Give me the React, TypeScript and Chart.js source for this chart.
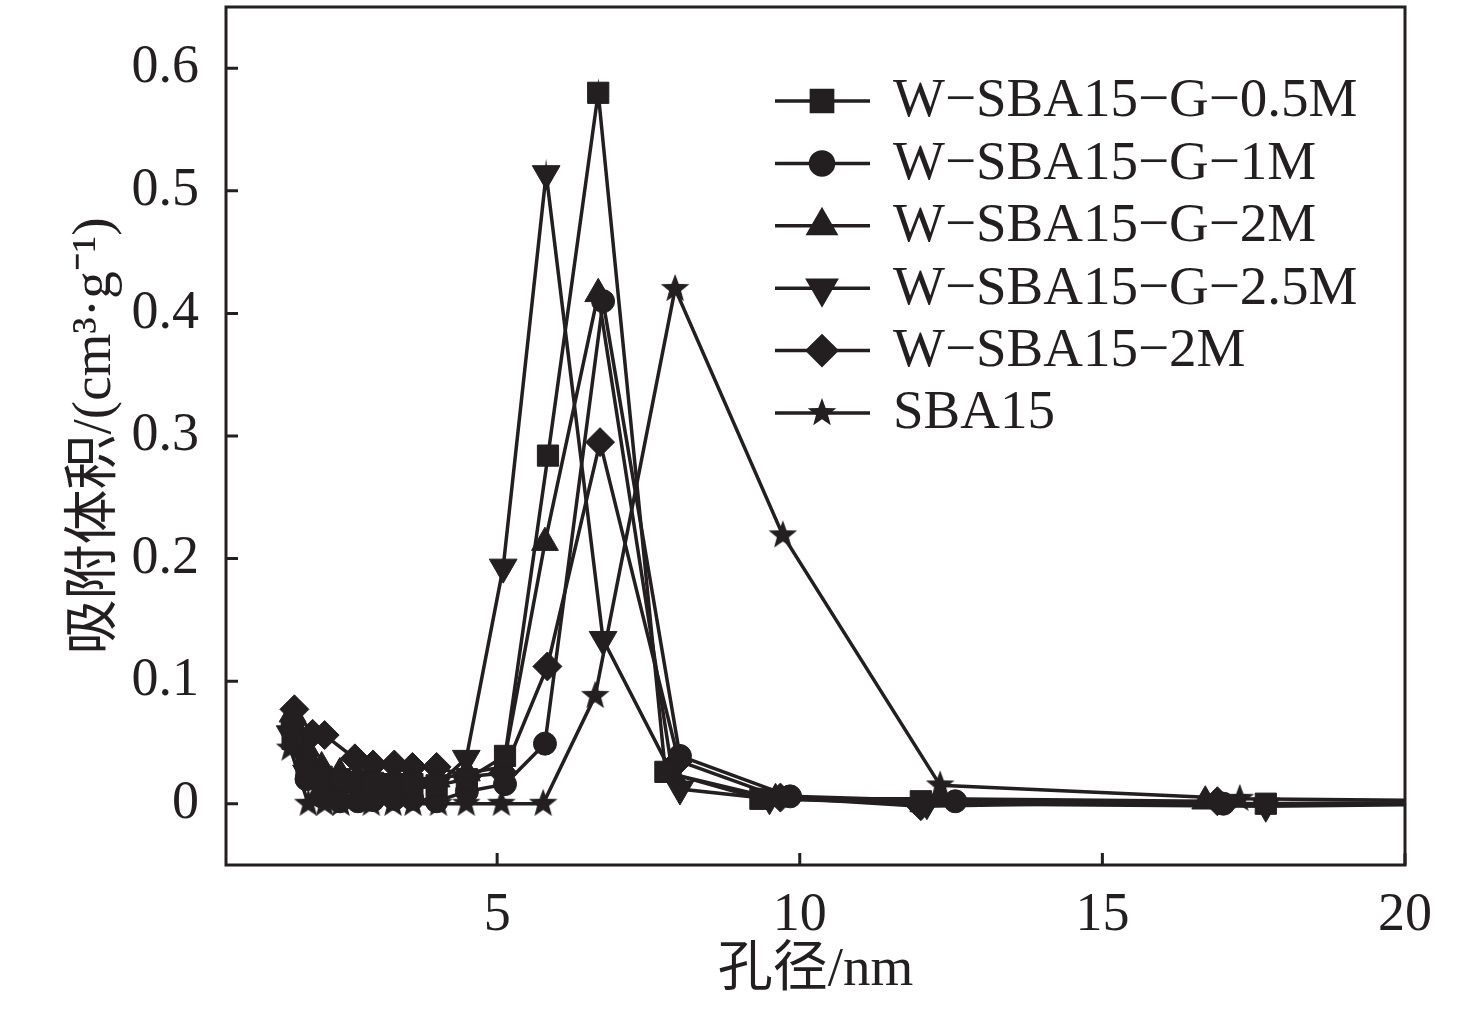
import React, { useEffect, useRef } from 'react';
import { Chart, registerables } from 'chart.js';
import { drawPoint } from 'chart.js/helpers';

Chart.register(...registerables);

// values (pore size in nm, volume in cm3/g)
const seriesNames = ['W−SBA15−G−0.5M', 'W−SBA15−G−1M', 'W−SBA15−G−2M', 'W−SBA15−G−2.5M', 'W−SBA15−2M', 'SBA15'];

const x05 = [1.62, 1.85, 2.1, 2.4, 2.7, 2.95, 3.3, 3.6, 4.0, 4.5, 5.13, 5.84, 6.67, 7.78, 9.35, 12.0, 17.7, 22];
const y05 = [0.053, 0.030, 0.022, 0.020, 0.018, 0.017, 0.016, 0.016, 0.015, 0.020, 0.039, 0.284, 0.580, 0.026, 0.004, 0.002, 0.000, 0.001];

const x1 = [1.62, 1.85, 2.1, 2.4, 2.7, 2.95, 3.3, 3.6, 4.0, 4.5, 5.13, 5.79, 6.75, 8.02, 9.84, 12.57, 17.0, 22];
const y1 = [0.065, 0.020, 0.006, 0.002, 0.002, 0.003, 0.004, 0.004, 0.002, 0.010, 0.016, 0.049, 0.410, 0.039, 0.006, 0.002, 0.000, 0.001];

const x2 = [1.62, 1.85, 2.1, 2.4, 2.7, 2.95, 3.3, 3.6, 4.0, 4.5, 5.1, 5.79, 6.67, 7.9, 9.6, 12.3, 16.7];
const y2 = [0.073, 0.045, 0.030, 0.025, 0.022, 0.020, 0.020, 0.020, 0.020, 0.025, 0.030, 0.213, 0.416, 0.024, 0.004, 0.004, 0.002];

const x25 = [1.58, 1.85, 2.1, 2.4, 2.7, 2.95, 3.3, 3.6, 4.0, 4.49, 5.1, 5.81, 6.75, 8.02, 9.5, 12.1, 17.7, 22];
const y25 = [0.057, 0.025, 0.012, 0.010, 0.010, 0.010, 0.010, 0.012, 0.015, 0.037, 0.193, 0.514, 0.134, 0.012, 0.004, 0.000, -0.002, 0.000];

const xW2 = [1.65, 1.95, 2.15, 2.65, 2.95, 3.3, 3.6, 4.0, 4.5, 5.1, 5.83, 6.7, 8.0, 9.68, 12.0, 16.9];
const yW2 = [0.077, 0.057, 0.056, 0.037, 0.032, 0.032, 0.030, 0.030, 0.022, 0.025, 0.112, 0.295, 0.035, 0.005, -0.002, 0.002];

const xSBA = [1.58, 1.88, 2.15, 2.42, 2.92, 3.28, 3.61, 4.03, 4.49, 5.07, 5.76, 6.62, 7.94, 9.72, 12.32, 17.27, 22];
const ySBA = [0.045, 0, 0, 0, 0, 0, 0, 0, 0, 0, 0, 0.088, 0.420, 0.219, 0.015, 0.004, 0.002];

const xTicks = [5, 10, 15, 20];
const yTicks = [0, 0.1, 0.2, 0.3, 0.4, 0.5, 0.6];

const INK = '#231f20';
const SERIF = '"Liberation Serif", "Noto Sans CJK SC", serif';
const SHIFT = 10; // canvas is raised by this much so the frame top sits at the page's y=5

const makeStar = (r: number) => {
  const c = document.createElement('canvas');
  c.width = c.height = Math.ceil(r * 2 + 2);
  const g = c.getContext('2d')!;
  g.fillStyle = INK;
  g.beginPath();
  for (let i = 0; i < 10; i++) {
    const rad = i % 2 === 0 ? r : r * 0.42;
    const a = -Math.PI / 2 + (i * Math.PI) / 5;
    const px = c.width / 2 + rad * Math.cos(a);
    const py = c.height / 2 + rad * Math.sin(a);
    if (i === 0) g.moveTo(px, py); else g.lineTo(px, py);
  }
  g.closePath();
  g.fill();
  return c;
};

const zip = (xs: number[], ys: number[]) => xs.map((x, i) => ({ x, y: ys[i] }));

const App = () => {
  const canvasRef = useRef<HTMLCanvasElement>(null);

  useEffect(() => {
    if (!canvasRef.current) return;
    const star = makeStar(15);
    const marks = [
      { style: 'rect', radius: 15, rotation: 0 },
      { style: 'circle', radius: 11.5, rotation: 0 },
      { style: 'triangle', radius: 15.5, rotation: 0 },
      { style: 'triangle', radius: 16, rotation: 180 },
      { style: 'rectRot', radius: 14.5, rotation: 0 },
      { style: star, radius: 15, rotation: 0 },
    ];
    const pts = [zip(x05, y05), zip(x1, y1), zip(x2, y2), zip(x25, y25), zip(xW2, yW2), zip(xSBA, ySBA)];

    // box, inward ticks and legend drawn by hand
    const framePlugin = {
      id: 'frame',
      afterDatasetsDraw(chart: any) {
        const { ctx, chartArea: a, scales } = chart;
        ctx.save();
        ctx.strokeStyle = INK;
        ctx.lineWidth = 3;
        ctx.strokeRect(a.left, a.top, a.right - a.left, a.bottom - a.top);
        ctx.beginPath();
        xTicks.forEach((v) => {
          const px = scales.x.getPixelForValue(v);
          ctx.moveTo(px, a.bottom);
          ctx.lineTo(px, a.bottom - 12);
        });
        yTicks.forEach((v) => {
          const py = scales.y.getPixelForValue(v);
          ctx.moveTo(a.left, py);
          ctx.lineTo(a.left + 12, py);
        });
        ctx.stroke();

        // legend
        seriesNames.forEach((name, i) => {
          const y = 101 + SHIFT + i * 62.4;
          ctx.lineWidth = 3.5;
          ctx.beginPath();
          ctx.moveTo(775, y);
          ctx.lineTo(870, y);
          ctx.stroke();
          ctx.fillStyle = INK;
          drawPoint(ctx, { pointStyle: marks[i].style as any, radius: marks[i].radius, rotation: marks[i].rotation, borderWidth: 1 }, 822, y);
          ctx.font = `55px ${SERIF}`;
          ctx.textBaseline = 'middle';
          ctx.textAlign = 'left';
          ctx.fillText(name, 893, y + 1);
        });
        ctx.restore();
      },
    };

    const chart = new Chart(canvasRef.current, {
      type: 'scatter',
      data: {
        datasets: seriesNames.map((name, i) => ({
          label: name,
          data: pts[i],
          showLine: true,
          borderColor: INK,
          backgroundColor: INK,
          borderWidth: 3.5,
          pointStyle: marks[i].style as any,
          pointRadius: marks[i].radius,
          pointRotation: marks[i].rotation,
          pointBorderWidth: 1,
          pointBorderColor: INK,
          pointBackgroundColor: INK,
        })),
      },
      options: {
        animation: false,
        responsive: true,
        maintainAspectRatio: false,
        layout: { padding: { top: 5, right: 71, left: 0, bottom: 0 } },
        plugins: { legend: { display: false }, tooltip: { enabled: false } },
        scales: {
          x: {
            type: 'linear',
            min: 0.52,
            max: 20,
            grid: { display: false },
            border: { display: false },
            afterBuildTicks: (s: any) => { s.ticks = xTicks.map((v) => ({ value: v })); },
            afterFit: (s: any) => { s.height = 149; s.paddingLeft = 0; s.paddingRight = 0; },
            ticks: { color: INK, font: { family: SERIF, size: 54 }, padding: 10, maxRotation: 0 },
            title: { display: true, text: '孔径/nm', color: INK, font: { family: SERIF, size: 55, lineHeight: 1 }, padding: { top: 0, bottom: 16 } },
          },
          y: {
            type: 'linear',
            min: -0.05,
            max: 0.65,
            grid: { display: false },
            border: { display: false },
            afterBuildTicks: (s: any) => { s.ticks = yTicks.map((v) => ({ value: v })); },
            afterFit: (s: any) => { s.width = 226; s.paddingTop = 0; s.paddingBottom = 0; },
            ticks: {
              color: INK,
              font: { family: SERIF, size: 54 },
              padding: 19,
              callback: (v: any) => (v === 0 ? '0' : Number(v).toFixed(1)),
            },
            title: { display: true, text: '吸附体积/(cm³·g⁻¹)', color: INK, font: { family: SERIF, size: 55, lineHeight: 1 }, padding: { top: 68, bottom: 0 } },
          },
        },
      },
      plugins: [framePlugin],
    });

    return () => chart.destroy();
  }, []);

  return (
    <div style={{ position: 'fixed', left: 0, top: `${-SHIFT}px`, width: '1476px', height: `${1014 + SHIFT}px`, background: '#fff' }}>
      <canvas ref={canvasRef} />
    </div>
  );
};

export default App;
